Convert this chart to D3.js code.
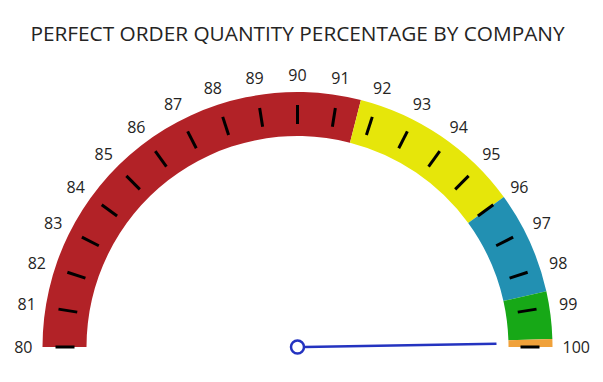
<!DOCTYPE html>
<html>
<head>
<meta charset="utf-8">
<script src="https://cdn.jsdelivr.net/npm/d3@7"></script>
<style>
  body { margin: 0; background: #fff; }
  text { font-family: "Open Sans", "Noto Sans", sans-serif; }
</style>
</head>
<body>
<svg id="gauge"></svg>
<script>
const width = 603;
const height = 382;

const title = 'PERFECT ORDER QUANTITY PERCENTAGE BY COMPANY';
const tickValues = d3.range(80, 101);
const bandStarts = [80, 91.6, 96, 98.6, 99.8];
const bandEnds = [91.6, 96, 98.6, 99.8, 100];
const bandColors = ['#B22227', '#E6E60A', '#2290B2', '#17A817', '#F0A13A'];
const needleValue = 99.9;

const cx = 297.5;
const cy = 347;
const outerR = 255;
const innerR = 211;

const svg = d3.select('#gauge')
            .attr('width', width)
            .attr('height', height);

// value -> angle (d3.arc convention, 0 at 12 o'clock)
const angle = d3.scaleLinear().domain([80, 100]).range([-Math.PI / 2, Math.PI / 2]);

svg.append('text')
    .attr('x', cx)
    .attr('y', 40.5)
    .attr('text-anchor', 'middle')
    .attr('font-size', 20.8)
    .attr('fill', '#252423')
    .text(title);

const g = svg.append('g').attr('transform', `translate(${cx}, ${cy})`);

const arc = d3.arc().innerRadius(innerR).outerRadius(outerR);

g.selectAll('path.band').data(bandStarts)
    .enter().append('path')
    .attr('class', 'band')
    .attr('d', (d, i) => arc({startAngle: angle(d), endAngle: angle(bandEnds[i])}))
    .attr('fill', (d, i) => bandColors[i]);

// tick marks inside the band
g.selectAll('line.tick').data(tickValues)
    .enter().append('line')
    .attr('class', 'tick')
    .attr('x1', d => Math.sin(angle(d)) * 223)
    .attr('y1', d => -Math.cos(angle(d)) * 223)
    .attr('x2', d => Math.sin(angle(d)) * 242)
    .attr('y2', d => -Math.cos(angle(d)) * 242)
    .attr('stroke', '#000')
    .attr('stroke-width', 3);

// labels outside the band
const labelR = 265;
g.selectAll('text.lbl').data(tickValues)
    .enter().append('text')
    .attr('class', 'lbl')
    .attr('font-size', 16)
    .attr('fill', '#252423')
    .attr('text-anchor', 'middle')
    .attr('dy', '0.35em')
    .text(d => d)
    .each(function(d) {
        const a = angle(d);
        const w = this.getComputedTextLength();
        const s = Math.sin(a), c = Math.cos(a);
        d3.select(this)
          .attr('x', s * labelR + s * w / 2)
          .attr('y', -c * labelR - c * 7);
    });

// needle
const na = angle(needleValue);
g.append('line')
    .attr('x1', Math.sin(na) * 7)
    .attr('y1', -Math.cos(na) * 7)
    .attr('x2', Math.sin(na) * 199)
    .attr('y2', -Math.cos(na) * 199)
    .attr('stroke', '#2433C0')
    .attr('stroke-width', 2.5);

g.append('circle')
    .attr('r', 6.5)
    .attr('fill', '#fff')
    .attr('stroke', '#2433C0')
    .attr('stroke-width', 2.5);
</script>
</body>
</html>
